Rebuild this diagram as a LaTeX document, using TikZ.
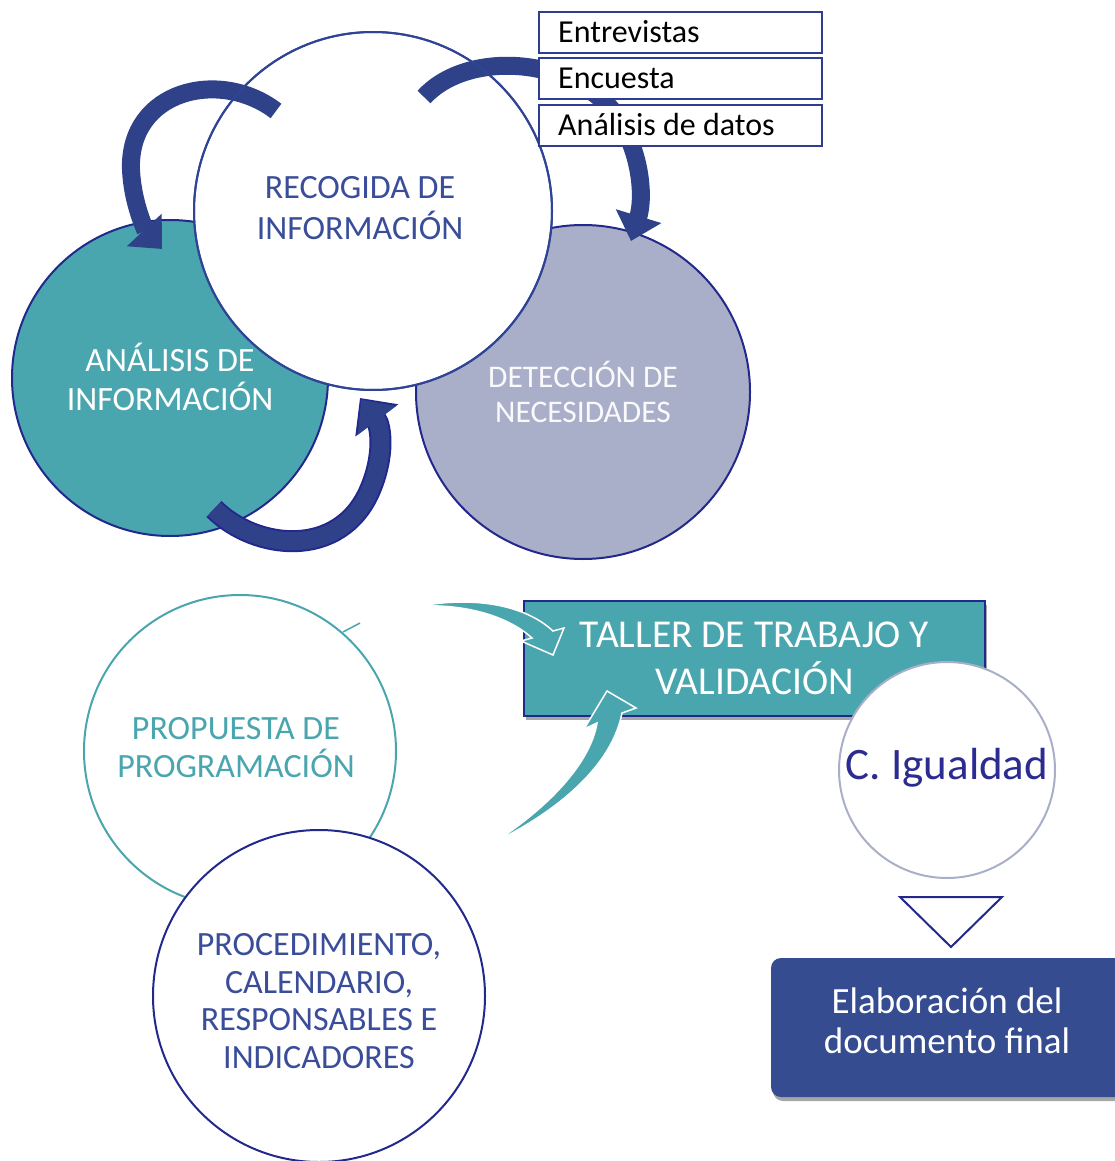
\documentclass[tikz,border=0pt]{standalone}
\usepackage{fontspec}
\setmainfont{Carlito}
\usetikzlibrary{arrows.meta,shadows}
\definecolor{navy}{HTML}{2E3D8F}
\definecolor{deepnavy}{HTML}{22288C}
\definecolor{recblue}{HTML}{2F4496}
\definecolor{myteal}{HTML}{4AA6AE}
\definecolor{grayblue}{HTML}{A9AFC8}
\definecolor{textnavy}{HTML}{3A4D9A}
\definecolor{arrowblue}{HTML}{2F4189}
\definecolor{igualtext}{HTML}{2B2B91}
\definecolor{finalblue}{HTML}{364C91}
\begin{document}
\begin{tikzpicture}[x=1pt,y=-1pt,
  circ/.style={circle, inner sep=0pt, line width=2pt},
  txt/.style={align=center, inner sep=0pt},
  listbox/.style={draw=navy, fill=white, line width=2pt, minimum width=283pt, minimum height=41pt,
     inner sep=0pt, anchor=north west},
  listtext/.style={anchor=west, inner sep=0pt, font=\fontsize{32}{36}\selectfont},
  navyarrow/.style={draw=arrowblue, line width=18pt, -{Triangle[length=26pt,width=46pt]}},
  tealarrow/.style={fill=myteal, draw=white, line width=1.5pt, line join=miter},
  shad/.style={drop shadow={shadow xshift=2pt, shadow yshift=-4pt, opacity=0.35, fill=black}},
]
\useasboundingbox (0,0) rectangle (1115,1161);

% ---- top cycle ----
\node[circ, draw=deepnavy, fill=myteal, minimum size=316pt] (ana) at (170,378) {};
\node[circ, draw=deepnavy, fill=grayblue, minimum size=334pt] (det) at (583,392) {};
\node[circ, draw=recblue, fill=white, minimum size=358pt] (rec) at (373,211) {};

\node[txt, text=white, font=\fontsize{34}{39}\selectfont] (anatext) at (170,377) {ANÁLISIS DE\\INFORMACIÓN};
\node[txt, text=white!94!grayblue, font=\fontsize{31.5}{35}\selectfont] (dettext) at (583,392) {DETECCIÓN DE\\NECESIDADES};
\node[txt, text=textnavy, font=\fontsize{34}{41}\selectfont] (rectext) at (360,208) {RECOGIDA DE\\INFORMACIÓN};

% curved arrows
\coordinate (a1s) at (276,111);
\coordinate (a1e) at (162,249);
\coordinate (a2s) at (424,97);
\coordinate (a2e) at (631,241);
\coordinate (a3s) at (214,509);
\coordinate (a3e) at (360,398);
\draw[navyarrow] (a1s) .. controls (220,68) and (128,90) .. (131,170) .. controls (133,208) and (148,234) .. (a1e);
\draw[navyarrow] (a2s) .. controls (465,52) and (565,55) .. (612,110) .. controls (640,145) and (645,195) .. (a2e);
\draw[draw=deepnavy, line width=22pt, -{Triangle[length=28pt,width=52pt]}] (a3s) .. controls (255,550) and (340,560) .. (370,490) .. controls (385,455) and (381,426) .. (a3e);
\draw[navyarrow, shorten >=2pt] (a3s) .. controls (255,550) and (340,560) .. (370,490) .. controls (385,455) and (381,426) .. (a3e);

\draw[recblue, line width=2pt] (rec.center) circle[radius=179pt];

% list boxes
\node[listbox] (b1) at (538,11) {};
\node[listbox] (b2) at (538,57.5) {};
\node[listbox] (b3) at (538,104) {};
\node[listtext] (b1t) at (558,32) {Entrevistas};
\node[listtext] (b2t) at (558,78.5) {Encuesta};
\node[listtext] (b3t) at (558,125) {Análisis de datos};

% ---- bottom part ----
\node[circ, draw=myteal, fill=white, minimum size=312pt] (prop) at (240,751) {};
\draw[myteal, line width=1.5pt] (343,632) -- (360,623);
\node[txt, text=myteal, font=\fontsize{34}{38}\selectfont] (proptext) at (236,748) {PROPUESTA DE\\PROGRAMACIÓN};
\node[circ, draw=deepnavy, fill=white, minimum size=332pt] (proc) at (319,996) {};
\node[txt, text=textnavy, font=\fontsize{34}{37.5}\selectfont] (proctext) at (319,1001) {PROCEDIMIENTO,\\CALENDARIO,\\RESPONSABLES E\\INDICADORES};

\node[draw=deepnavy, fill=myteal, line width=2pt, minimum width=461pt, minimum height=115pt, inner sep=0pt, shad,
      txt, text=white, font=\fontsize{39.5}{47}\selectfont] (taller) at (754.5,658.5) {TALLER DE TRABAJO Y\\VALIDACIÓN};

% teal arrows
\filldraw[tealarrow] (420,606) .. controls (475,596) and (525,605) .. (553,631) -- (564,628) -- (553,655) -- (521,641) -- (532,638) .. controls (510,618) and (470,604) .. cycle;
\filldraw[tealarrow] (493,843) .. controls (560,810) and (612,765) .. (622,713) -- (636,708) -- (607,691) -- (584,729) -- (597,723) .. controls (590,765) and (545,810) .. cycle;

\node[circ, draw=grayblue, fill=white, minimum size=216pt] (igual) at (947,770) {};
\node[txt, text=igualtext, font=\fontsize{45}{50}\selectfont] (igualtext) at (947,768) {C. Igualdad};

\coordinate (t1) at (900,897);
\coordinate (t2) at (1002,897);
\coordinate (t3) at (951,947);
\filldraw[fill=white, draw=deepnavy, line width=2pt] (t1) -- (t2) -- (t3) -- cycle;

\node[fill=finalblue, rounded corners=10pt, minimum width=359pt, minimum height=139pt, inner sep=0pt, shad] (final) at (950.5,1027.5) {};
\node[txt, text=white, font=\fontsize{37}{40}\selectfont] (finaltext) at (947,1021) {Elaboración del\\documento final};
\end{tikzpicture}
\end{document}
